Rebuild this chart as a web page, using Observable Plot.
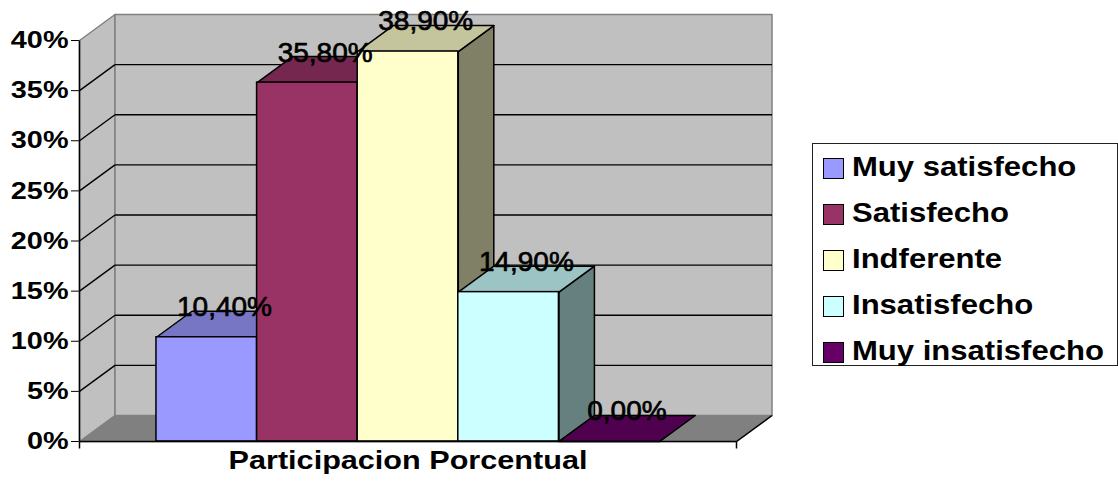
<!DOCTYPE html>
<html>
<head>
<meta charset="utf-8">
<script src="https://cdn.jsdelivr.net/npm/d3@7"></script>
<script src="https://cdn.jsdelivr.net/npm/@observablehq/plot@0.6"></script>
<style>
  body { margin: 0; background: #fff; }
  #chart { position: relative; width: 1118px; height: 485px; overflow: hidden;
           font-family: "Liberation Sans", Arial, sans-serif; }
  #chart svg { position: absolute; left: 0; top: 0; }
  #legend { position: absolute; left: 812px; top: 143px; width: 306px; height: 223px;
            box-sizing: border-box; border: 1px solid #222; background: #fff;
            padding-top: 2px; }
  #legend .row { height: 45.85px; display: flex; align-items: center; }
  #legend .sw { width: 21px; height: 21px; box-sizing: border-box; border: 1.5px solid #000;
                margin-left: 10px; flex: none; }
  #legend .lab { display: inline-block; margin-left: 8px; font-size: 27px; font-weight: bold;
                 transform: scaleX(1.15); transform-origin: left center; white-space: nowrap;
                 position: relative; top: -1px; }
</style>
</head>
<body>
<div id="chart"></div>
<script>
// ---- data ----
const categories = ["Muy satisfecho", "Satisfecho", "Indferente", "Insatisfecho", "Muy insatisfecho"];
const values = [10.4, 35.8, 38.9, 14.9, 0.0];
const colors = ["#9999FF", "#993366", "#FFFFCC", "#CCFFFF", "#660066"];
const yTicks = [0, 5, 10, 15, 20, 25, 30, 35, 40];
const yMax = 40;
const xTitle = "Participacion Porcentual";

// ---- layout ----
const W = 1118, H = 485;
const M = {top: 40, right: 382, bottom: 44, left: 79};
const GAP = 0.765;                 // floor margin beside the outer columns, in column widths
const DEPTH = {x: 35.5, y: 26};    // offset of the back plane, in pixels
const TICK = 7;                    // category-axis tick length, in pixels

const xMin = -0.5 - GAP, xMax = categories.length - 0.5 + GAP;
const pxPerX = (W - M.left - M.right) / (xMax - xMin);
const pxPerY = (H - M.top - M.bottom) / yMax;
const DX = DEPTH.x / pxPerX, DY = DEPTH.y / pxPerY;

const shade = (c, k) => { const r = d3.rgb(c); return d3.rgb(r.r * k, r.g * k, r.b * k).formatHex(); };
const fmt = v => v.toFixed(2).replace(".", ",") + "%";

const bars = categories.map((name, i) => ({name, i, value: values[i], color: colors[i], label: fmt(values[i])}));

// flatten polygons into vertex rows for closed lines
const polys = list => list.flatMap(p => p.pts.map(([x, y]) => ({id: p.id, fill: p.fill, x, y})));

const walls = polys([
  {id: "floor", fill: "#808080", pts: [[xMin, 0], [xMax, 0], [xMax + DX, DY], [xMin + DX, DY]]},
  {id: "side",  fill: "#C0C0C0", pts: [[xMin, 0], [xMin + DX, DY], [xMin + DX, yMax + DY], [xMin, yMax]]},
  {id: "back",  fill: "#C0C0C0", pts: [[xMin + DX, DY], [xMax + DX, DY], [xMax + DX, yMax + DY], [xMin + DX, yMax + DY]]}
]);

const sideFaces = polys(bars.map(b => ({id: "s" + b.i, fill: shade(b.color, 0.5),
  pts: [[b.i + 0.5, 0], [b.i + 0.5 + DX, DY], [b.i + 0.5 + DX, b.value + DY], [b.i + 0.5, b.value]]})));
const topFaces = polys(bars.map(b => ({id: "t" + b.i, fill: shade(b.color, 0.77),
  pts: [[b.i - 0.5, b.value], [b.i + 0.5, b.value], [b.i + 0.5 + DX, b.value + DY], [b.i - 0.5 + DX, b.value + DY]]})));

const gridTicks = yTicks.filter(t => t > 0 && t < yMax);

const svg = Plot.plot({
  width: W, height: H,
  marginTop: M.top, marginRight: M.right, marginBottom: M.bottom, marginLeft: M.left,
  style: {fontFamily: '"Liberation Sans", Arial, sans-serif', fontSize: "24px", fontWeight: "bold",
          background: "transparent", overflow: "visible", color: "black"},
  x: {domain: [xMin, xMax], axis: null},
  y: {domain: [0, yMax], ticks: yTicks, tickFormat: d => d + "%", tickSize: 8, tickPadding: 3, label: null},
  color: {type: "identity"},
  marks: [
    // walls and floor
    Plot.line(walls, {x: "x", y: "y", z: "id", fill: "fill", stroke: "#808080", strokeWidth: 1.5, curve: "linear-closed"}),
    // gridlines on the back wall and on the side wall
    Plot.link(gridTicks, {x1: () => xMin + DX, x2: () => xMax + DX, y1: t => t + DY, y2: t => t + DY, stroke: "black", strokeWidth: 1.4}),
    Plot.link(gridTicks, {x1: () => xMin, x2: () => xMin + DX, y1: t => t, y2: t => t + DY, stroke: "black", strokeWidth: 1.4}),
    // axis lines, floor edge and category ticks
    Plot.link([0], {x1: () => xMin, x2: () => xMin, y1: () => 0, y2: () => yMax, stroke: "black", strokeWidth: 1.5}),
    Plot.link([0], {x1: () => xMax, x2: () => xMax + DX, y1: () => 0, y2: () => DY, stroke: "black", strokeWidth: 1.5}),
    Plot.link([xMin, xMax], {x1: d => d, x2: d => d, y1: () => 0, y2: () => -TICK / pxPerY, stroke: "black", strokeWidth: 1.5}),
    // columns: sides, tops, fronts
    Plot.line(sideFaces, {x: "x", y: "y", z: "id", fill: "fill", stroke: "black", strokeWidth: 1.5, curve: "linear-closed"}),
    Plot.line(topFaces, {x: "x", y: "y", z: "id", fill: "fill", stroke: "black", strokeWidth: 1.5, curve: "linear-closed"}),
    Plot.rect(bars, {x1: b => b.i - 0.5, x2: b => b.i + 0.5, y1: () => 0, y2: "value", fill: "color", stroke: "black", strokeWidth: 1.5}),
    Plot.link([0], {x1: () => xMin, x2: () => xMax, y1: () => 0, y2: () => 0, stroke: "black", strokeWidth: 1.5}),
    // value labels
    Plot.text(bars, {x: b => b.i + DX / 2, y: b => b.value + DY / 2, text: "label", dy: -17,
                     fontSize: 28, fontWeight: "normal", fill: "black", stroke: "black", strokeWidth: 0.7}),
    // category axis title
    Plot.text([xTitle], {frameAnchor: "bottom", dy: 27.5, fontSize: 25.5, fontWeight: "bold", fill: "black"})
  ]
});

const chart = document.getElementById("chart");
chart.appendChild(svg);

// widen the bold labels to the chart's proportions
function stretch(nodes, k) {
  nodes.forEach(t => {
    const w = t.getComputedTextLength();
    t.setAttribute("textLength", (w * k).toFixed(2));
    t.setAttribute("lengthAdjust", "spacingAndGlyphs");
  });
}
const yLabels = [...svg.querySelectorAll('g[aria-label^="y-axis"] text')];
yLabels.forEach(t => { t.style.fontSize = "24px"; t.style.fontWeight = "bold"; });
stretch(yLabels, 1.2);
stretch([...svg.querySelectorAll("text")].filter(t => t.textContent === xTitle), 1.2);

// legend
const legend = document.createElement("div");
legend.id = "legend";
categories.forEach((name, i) => {
  const row = document.createElement("div");
  row.className = "row";
  const sw = document.createElement("span");
  sw.className = "sw";
  sw.style.background = colors[i];
  const lab = document.createElement("span");
  lab.className = "lab";
  lab.textContent = name;
  row.append(sw, lab);
  legend.appendChild(row);
});
chart.appendChild(legend);
</script>
</body>
</html>
